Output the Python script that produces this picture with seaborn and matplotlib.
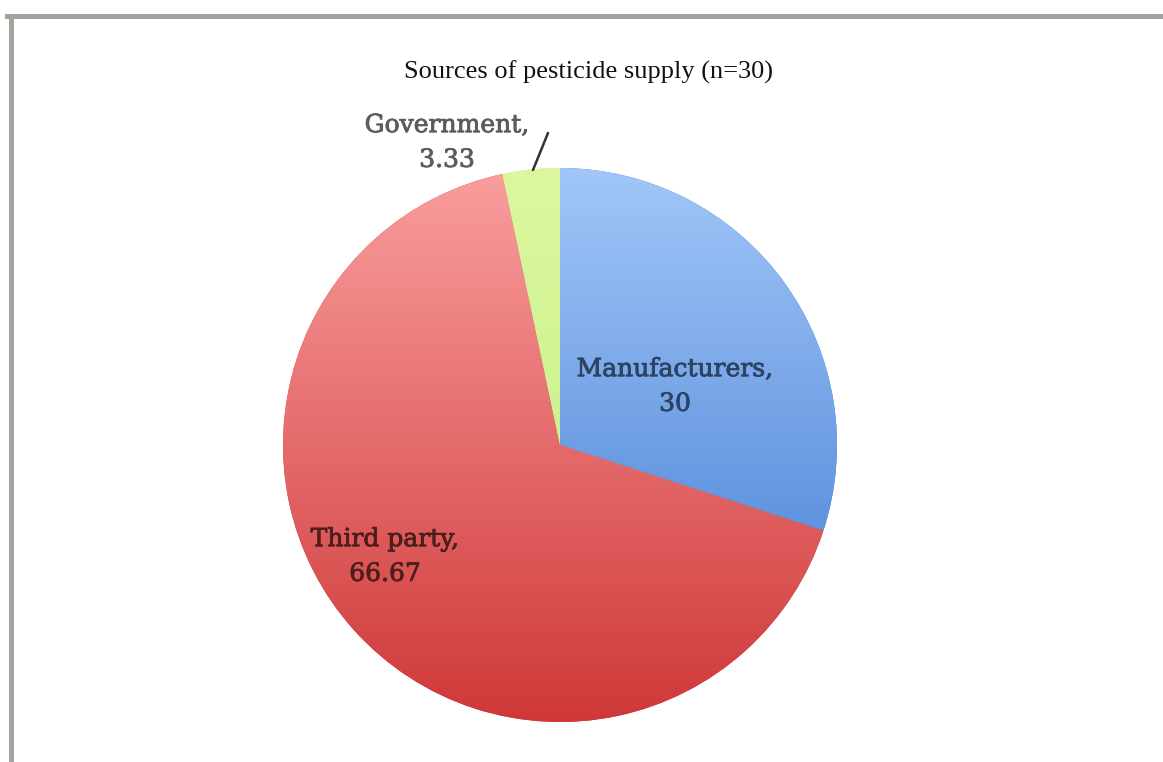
import matplotlib.pyplot as plt
import matplotlib.patheffects as pe
import numpy as np
import seaborn as sns
from matplotlib.colors import LinearSegmentedColormap
from matplotlib.lines import Line2D
from matplotlib.patches import Rectangle

# Data
sources = ["Manufacturers", "Third party", "Government"]
shares = [30, 66.67, 3.33]
value_labels = ["30", "66.67", "3.33"]

# gradient colours (top -> bottom) per slice
grad_top = ["#a2c6f8", "#fa9e9e", "#dbf89e"]
grad_bottom = ["#3a78d0", "#cf3838", "#c2ec82"]
text_colors = ["#2e4262", "#4c1e1e", "#5c5c5c"]

sns.set_style("white")

W, H = 1163, 762
fig = plt.figure(figsize=(W / 100, H / 100), dpi=100)
fig.patch.set_facecolor("white")

# pie centre and radius in pixels
cx, cy, r = 560, 445, 277
ax = fig.add_axes([(cx - r) / W, (H - cy - r) / H, 2 * r / W, 2 * r / H])

wedges, _ = ax.pie(shares, startangle=90, counterclock=False, radius=1,
                   colors=grad_bottom, wedgeprops={"linewidth": 0})
ax.axis("off")

# gradient fill clipped to each wedge
grad = np.linspace(0, 1, 256).reshape(-1, 1)
for w, top, bot in zip(wedges, grad_top, grad_bottom):
    cmap = LinearSegmentedColormap.from_list("g", [top, bot])
    im = ax.imshow(grad, cmap=cmap, extent=[-1, 1, -1, 1], aspect="auto",
                   origin="upper", zorder=2)
    im.set_clip_path(w)
ax.set_xlim(-1, 1)
ax.set_ylim(-1, 1)


def px(x, y):
    return (x - cx) / r, (cy - y) / r


label_pos = [(675, 387), (385, 557), (447, 143)]
for name, val, (lx, ly), col in zip(sources, value_labels, label_pos, text_colors):
    dx, dy = px(lx, ly)
    ax.text(dx, dy, f"{name},\n{val}", ha="center", va="center", fontsize=18,
            family="DejaVu Serif", color=col, linespacing=1.65, zorder=5,
            clip_on=False,
            path_effects=[pe.withStroke(linewidth=0.6, foreground=col)])

# leader line for the small slice
(x0, y0), (x1, y1) = px(548, 133), px(533, 170)
ax.add_line(Line2D([x0, x1], [y0, y1], color="#333333", lw=1.8, clip_on=False,
                   zorder=5))

# title
fig.text(588 / W, 1 - 72 / H, "Sources of pesticide supply (n=30)", ha="center",
         va="center", fontsize=19, family="Liberation Serif", color="#111111")

# grey frame on top and left
frame = "#a8a29f"
fig.add_artist(Rectangle((5 / W, 1 - 19 / H), 1, 5 / H, transform=fig.transFigure,
                         color=frame, lw=0))
fig.add_artist(Rectangle((9 / W, 0), 5 / W, 1 - 14 / H, transform=fig.transFigure,
                         color=frame, lw=0))

fig.savefig("out.png", dpi=100)
